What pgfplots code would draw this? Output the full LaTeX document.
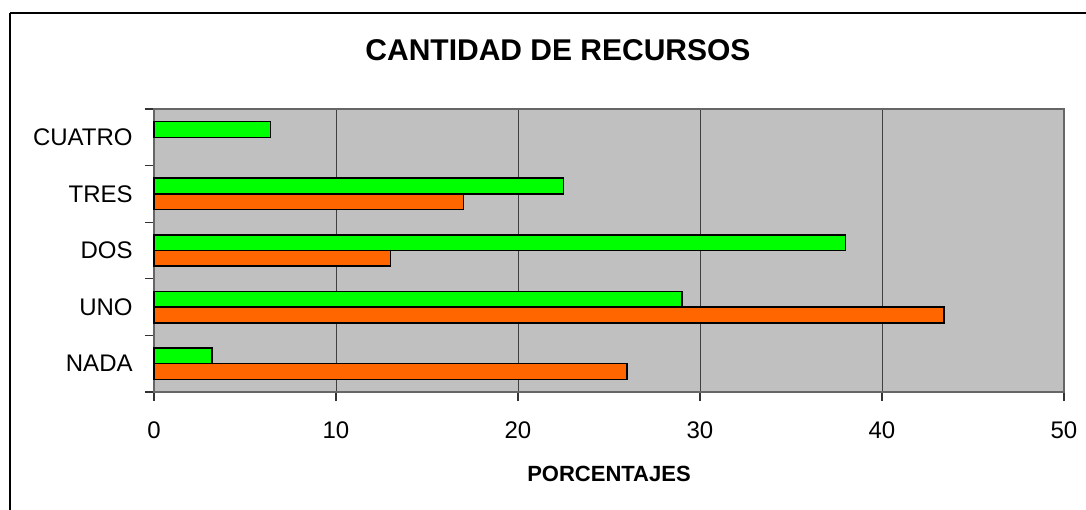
\documentclass[border=0pt]{standalone}
\usepackage{fontspec}
\setmainfont{Liberation Sans}
\usepackage{pgfplots}
\pgfplotsset{compat=1.18}
\definecolor{PlotGray}{HTML}{C0C0C0}
\definecolor{BarGreen}{HTML}{00FF00}
\definecolor{BarOrange}{HTML}{FF6600}

\begin{document}
\begin{tikzpicture}
  % page = 1086x509 px at 0.5pt/px, plot area lower left at the origin
  \useasboundingbox (-77pt,-58.5pt) rectangle (466pt,196pt);
  \draw[line width=0.6pt] (-72pt,189.5pt) -- (600pt,189.5pt);
  \draw[line width=0.6pt] (-72pt,189.5pt) -- (-72pt,-100pt);
  \begin{axis}[
    at={(0,0)},anchor=south west,
    scale only axis,width=455pt,height=141.5pt,
    xbar,bar width=7.85pt,
    xmin=0,xmax=50,ymin=-0.5,ymax=4.5,
    xtick={0,10,...,50},
    ytick={-0.5,0.5,...,4.5},yticklabels={},
    extra y ticks={0,...,4},
    extra y tick labels={NADA,UNO,DOS,TRES,CUATRO},
    extra y tick style={major tick length=0pt,ytick style={draw=none}},
    tick pos=left,tick align=outside,
    major tick length=4.5pt,
    tick style={draw=black!80,line width=0.6pt},
    /pgf/number format/assume math mode=true,
    tick label style={font=\fontsize{12}{14}\selectfont},
    yticklabel style={inner sep=0pt,xshift=-10.5pt},
    xticklabel style={inner sep=0pt,yshift=-10pt},
    xmajorgrids,grid style={black!75,line width=0.5pt},
    axis background/.style={fill=PlotGray},
    axis line style={black!60,line width=0.6pt},
    clip=false]
    \addplot[fill=BarGreen,draw=black,line width=0.75pt,bar shift=3.93pt]
      coordinates {(3.2,0) (29.0,1) (38.0,2) (22.5,3) (6.4,4)};
    \addplot[fill=BarOrange,draw=black,line width=0.75pt,bar shift=-3.93pt]
      coordinates {(26.0,0) (43.4,1) (13.0,2) (17.0,3)};
  \end{axis}
  \node[font=\bfseries\fontsize{15}{18}\selectfont] at (202pt,171pt) {CANTIDAD DE RECURSOS};
  \node[font=\bfseries\fontsize{11}{13}\selectfont] at (227.5pt,-41pt) {PORCENTAJES};
\end{tikzpicture}
\end{document}
